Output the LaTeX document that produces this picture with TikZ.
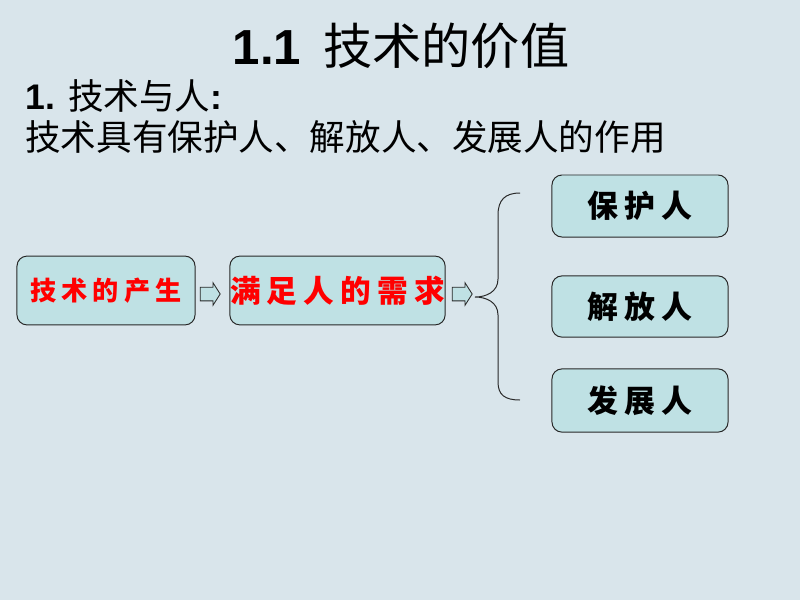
\documentclass[tikz,border=0pt]{standalone}
\usepackage{fontspec}
\setmainfont{Liberation Sans}
\newfontfamily\cjk{Noto Sans CJK SC}
\newfontfamily\brush{Noto Sans CJK SC}[LetterSpace=20]
\usetikzlibrary{shapes.arrows}
\definecolor{bg_blue}{RGB}{217,229,235}
\definecolor{box_teal}{RGB}{191,225,228}
\definecolor{line_grey}{RGB}{40,40,40}

\begin{document}
\begin{tikzpicture}[x=0.025cm,y=-0.025cm,
	box_node/.style={draw=line_grey,line width=0.7pt,fill=box_teal,rounded corners=0.25cm,inner sep=0pt},
	arrow_node/.style={single arrow,draw=line_grey,line width=0.6pt,fill=box_teal,inner sep=0.16cm,
		minimum height=0.5cm,single arrow head extend=0.11cm,single arrow tip angle=115},
	red_text/.style={text=red,font=\brush\bfseries\fontsize{18.6}{21}\selectfont},
	black_text/.style={text=black,font=\brush\bfseries\fontsize{22}{24}\selectfont}]

		\fill[bg_blue] (0,0) rectangle (800,600);

		% heading lines
		\node (title) at (401,46) {\fontsize{35}{40}\selectfont\bfseries 1.1\hspace{0.45em}{\cjk\mdseries 技术的价值}};
		\node[anchor=west,inner sep=0pt] (line1) at (25,96) {\fontsize{25.3}{29}\selectfont\bfseries 1. {\cjk\mdseries 技术与人}:};
		\node[anchor=west,inner sep=0pt] (line2) at (25,137) {\fontsize{25.3}{29}\selectfont\cjk 技术具有保护人、解放人、发展人的作用};

		% left chain
		\node[box_node,minimum width=4.45cm,minimum height=1.72cm,red_text] (origin) at (106,290.5) {技术的产生};
		\node[box_node,minimum width=5.38cm,minimum height=1.72cm,red_text,font=\brush\bfseries\fontsize{21.8}{24}\selectfont] (need) at (337.5,290.5) {满足人的需求};
		\node[arrow_node] (arr1) at (208,294) {};
		\node[arrow_node] (arr2) at (460,294) {};

		% right boxes
		\node[box_node,minimum width=4.4cm,minimum height=1.55cm,black_text] (protect) at (640,206) {保护人};
		\node[box_node,minimum width=4.4cm,minimum height=1.53cm,black_text] (free) at (640,306.5) {解放人};
		\node[box_node,minimum width=4.4cm,minimum height=1.58cm,black_text] (develop) at (640,400.5) {发展人};

		% brace
		\coordinate (brace_top) at (520,193);
		\coordinate (brace_tip) at (475,297);
		\coordinate (brace_bot) at (520,400);
		\draw[line_grey,line width=0.7pt] (brace_top) .. controls (505,193) and (498,200) .. (498,215) -- (498,279)
			.. controls (498,292) and (486,297) .. (brace_tip)
			.. controls (486,297) and (498,302) .. (498,315) -- (498,382)
			.. controls (498,395) and (505,400) .. (brace_bot);
		\end{tikzpicture}
\end{document}
